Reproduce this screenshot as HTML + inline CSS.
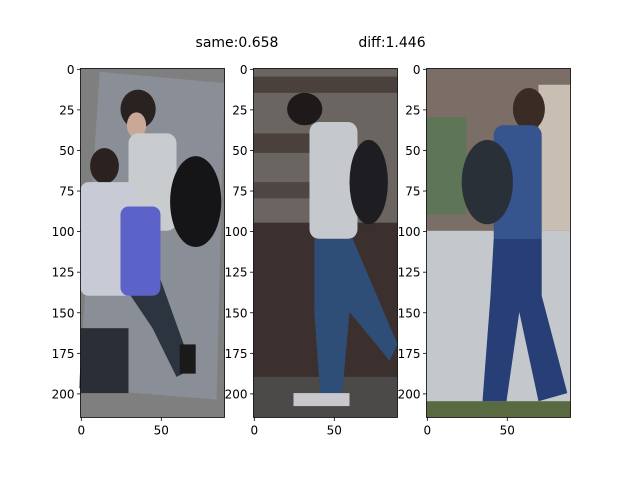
<!DOCTYPE html>
<html><head><meta charset="utf-8"><style>
html,body{margin:0;padding:0;background:#fff;}
svg text{font-family:"DejaVu Sans","Liberation Sans",sans-serif;font-size:12px;fill:#000;}
</style></head><body>
<svg id="fig" width="640" height="480" viewBox="0 0 640 480" xmlns="http://www.w3.org/2000/svg">
<rect width="640" height="480" fill="#fff"/>
<text x="237" y="47" text-anchor="middle" style="font-size:14px">same:0.658</text>
<text x="392" y="47" text-anchor="middle" style="font-size:14px">diff:1.446</text>

<!-- panel 1 -->
<g transform="translate(80.5,68.5) scale(1.6,1.623)">
<rect x="0" y="0" width="90" height="215" fill="#7f7f7f"/>
<polygon points="12,2 90,9 85,204 -1,197" fill="#8a8f97"/>
<rect x="0" y="160" width="30" height="40" fill="#2a2e36"/>
<polygon points="30,138 50,130 70,185 60,190 45,160" fill="#2c3440"/>
<ellipse cx="36" cy="25" rx="11" ry="12" fill="#2a2220"/>
<ellipse cx="35" cy="35" rx="6" ry="8" fill="#c9a898"/>
<rect x="30" y="40" width="30" height="60" rx="6" fill="#c9ccce"/>
<ellipse cx="72" cy="82" rx="16" ry="28" fill="#151518"/>
<ellipse cx="15" cy="60" rx="9" ry="11" fill="#2b2220"/>
<rect x="0" y="70" width="35" height="70" rx="5" fill="#c8cad6"/>
<rect x="25" y="85" width="25" height="55" rx="5" fill="#5c63c8"/>
<rect x="62" y="170" width="10" height="18" fill="#1a1a1a"/>
</g>
<!-- panel 2 -->
<g transform="translate(253.5,68.5) scale(1.6,1.623)">
<rect x="0" y="0" width="90" height="100" fill="#6a6560"/>
<rect x="0" y="5" width="90" height="10" fill="#4a403c"/>
<rect x="0" y="40" width="40" height="12" fill="#4a403c"/>
<rect x="0" y="70" width="40" height="10" fill="#4e4642"/>
<rect x="0" y="95" width="90" height="120" fill="#3c302e"/>
<rect x="0" y="190" width="90" height="25" fill="#4c4a48"/>
<ellipse cx="32" cy="25" rx="11" ry="10" fill="#1e1a1a"/>
<rect x="35" y="33" width="30" height="72" rx="6" fill="#c5c8cc"/>
<ellipse cx="72" cy="70" rx="12" ry="26" fill="#1e1e22"/>
<polygon points="38,105 62,105 90,170 85,180 60,150 55,205 42,205 38,150" fill="#2e4e78"/>
<rect x="25" y="200" width="35" height="8" fill="#c8c8cc"/>
</g>
<!-- panel 3 -->
<g transform="translate(426.5,68.5) scale(1.6,1.623)">
<rect x="0" y="0" width="90" height="110" fill="#7a6e66"/>
<rect x="0" y="30" width="25" height="60" fill="#5f7558"/>
<rect x="70" y="10" width="20" height="90" fill="#c8bfb2"/>
<rect x="0" y="100" width="90" height="115" fill="#c4c8cc"/>
<rect x="0" y="205" width="90" height="10" fill="#5a6a40"/>
<ellipse cx="64" cy="25" rx="10" ry="13" fill="#3a2c24"/>
<rect x="42" y="35" width="30" height="75" rx="6" fill="#36548e"/>
<ellipse cx="38" cy="70" rx="16" ry="26" fill="#2a3038"/>
<polygon points="42,105 72,105 72,140 88,200 70,205 58,150 50,205 35,205 40,140" fill="#273f76"/>
</g>
</svg>
<script>
const yTicks=[0,25,50,75,100,125,150,175,200];
const xTicks=[0,50];
const imgW=90, imgH=215;
const panelLefts=[80.5,253.5,426.5];
const top0=68.5, sx=1.6, sy=1.623;
const svg=document.getElementById('fig');
const NS='http://www.w3.org/2000/svg';
function mk(t,a){const e=document.createElementNS(NS,t);for(const k in a)e.setAttribute(k,a[k]);svg.appendChild(e);return e;}
panelLefts.forEach((L,i)=>{
  const X=v=>L+(v+0.5)*sx, Y=v=>top0+(v+0.5)*sy;
  const f=mk('rect',{x:L,y:top0,width:imgW*sx,height:imgH*sy,fill:'none',stroke:'#000','stroke-width':0.8});
  
  
  yTicks.forEach(v=>{
    const l=mk('line',{x1:L-3.5,x2:L,y1:Y(v),y2:Y(v),stroke:'#000','stroke-width':0.8});
    
    
    const t=mk('text',{x:L-6,y:Y(v)+4.5,'text-anchor':'end'});t.textContent=v;
    
    
  });
  xTicks.forEach(v=>{
    const B=top0+imgH*sy;
    const l=mk('line',{x1:X(v),x2:X(v),y1:B,y2:B+3.5,stroke:'#000','stroke-width':0.8});
    
    
    const t=mk('text',{x:X(v),y:B+17,'text-anchor':'middle'});t.textContent=v;
    
    
  });
});
</script>
</body></html>
